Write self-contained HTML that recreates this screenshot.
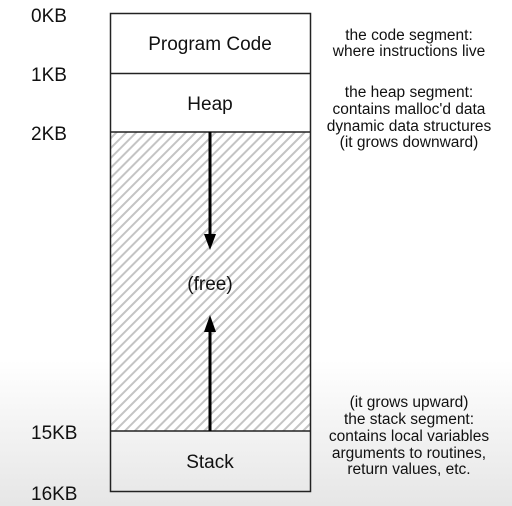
<!DOCTYPE html>
<html><head><style>
body{margin:0;width:512px;height:506px;overflow:hidden;background:linear-gradient(#fff 0,#fff 360px,#e6e6e6 506px);font-family:"Liberation Sans",sans-serif;}
</style></head><body>
<svg width="512" height="506" xmlns="http://www.w3.org/2000/svg" style="position:absolute;left:0;top:0">
<defs>
<pattern id="h" width="7" height="7" patternUnits="userSpaceOnUse" patternTransform="rotate(45)">
<rect width="7" height="7" fill="#fff"/>
<rect width="2" height="7" fill="#c4c4c4"/>
</pattern>
</defs>
<rect x="110.5" y="13.5" width="200" height="118" fill="#fff"/>
<rect x="111" y="132" width="199" height="299" fill="url(#h)"/>
<rect x="110.5" y="13.5" width="200" height="478" fill="none" stroke="#222" stroke-width="1.5"/>
<line x1="110" y1="73.5" x2="311" y2="73.5" stroke="#222" stroke-width="1.5"/>
<line x1="110" y1="132" x2="311" y2="132" stroke="#222" stroke-width="1.5"/>
<line x1="110" y1="431" x2="311" y2="431" stroke="#222" stroke-width="1.5"/>
<line x1="210" y1="132" x2="210" y2="236" stroke="#000" stroke-width="3"/>
<polygon points="204,234 216,234 210,250" fill="#000"/>
<line x1="210" y1="431" x2="210" y2="328" stroke="#000" stroke-width="3"/>
<polygon points="204,332 216,332 210,315" fill="#000"/>
<g font-size="19" fill="#111" text-anchor="middle">
<text x="210" y="50">Program Code</text>
<text x="210" y="110">Heap</text>
<text x="210" y="290">(free)</text>
<text x="210" y="468">Stack</text>
</g>
<g font-size="19" fill="#111">
<text x="31" y="22">0KB</text>
<text x="31" y="81">1KB</text>
<text x="31" y="140">2KB</text>
<text x="31" y="439">15KB</text>
<text x="31" y="500">16KB</text>
</g>
<g font-size="15.5" fill="#111" text-anchor="middle">
<text x="409" y="40">the code segment:</text>
<text x="409" y="56">where instructions live</text>
<text x="409" y="97">the heap segment:</text>
<text x="409" y="114">contains malloc'd data</text>
<text x="409" y="131">dynamic data structures</text>
<text x="409" y="147">(it grows downward)</text>
<text x="409" y="407">(it grows upward)</text>
<text x="409" y="424">the stack segment:</text>
<text x="409" y="441">contains local variables</text>
<text x="409" y="458">arguments to routines,</text>
<text x="409" y="474">return values, etc.</text>
</g>
</svg>
</body></html>
